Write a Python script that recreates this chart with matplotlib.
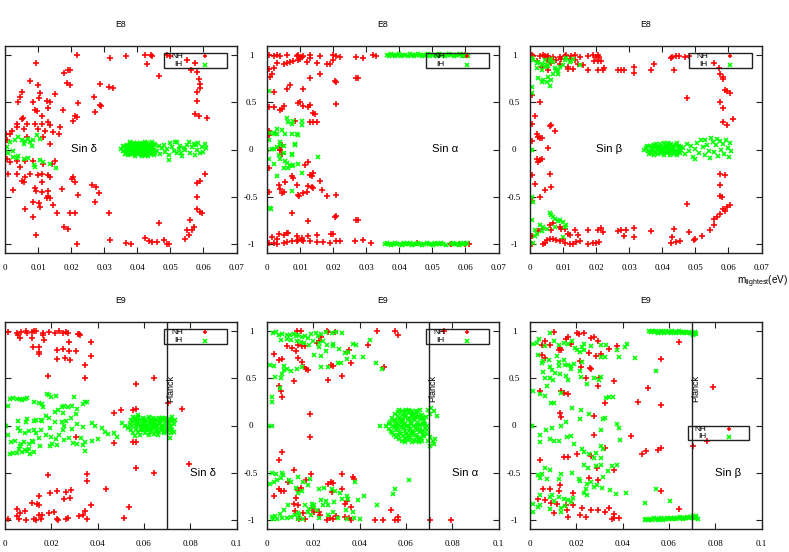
import matplotlib
matplotlib.use('Agg')
import matplotlib.pyplot as plt
from matplotlib.patches import Rectangle

plt.rcParams['axes.unicode_minus'] = False

# ---------------- data ----------------
# E8, sin delta
e8_del_nh = [(0.0219,1.0),(0.0316,0.975),(0.0367,0.99),(0.0424,1.0),(0.044,1.0),(0.0445,0.99),(0.043,0.91),
    (0.0094,0.92),(0.0467,0.78),(0.049,1.0),(0.050,0.99),(0.055,0.95),(0.0576,0.92),(0.0561,0.84),(0.0581,0.82),
    (0.0586,0.75),(0.0591,0.70),(0.0591,0.65),(0.0581,0.61),(0.0581,0.52),(0.0576,0.38),(0.0586,0.36),(0.0611,0.34),
    (0.0606,-0.26),(0.058,-0.36),(0.0591,-0.34),(0.058,-0.50),(0.058,-0.63),(0.059,-0.66),(0.0596,-0.68),
    (0.056,-0.75),(0.057,-0.82),(0.0566,-0.86),(0.0556,-0.91),(0.0545,-0.95),(0.055,-0.86),(0.0465,-0.78),
    (0.0318,-0.96),(0.0367,-0.99),(0.038,-1.0),(0.0424,-0.94),(0.0434,-0.97),(0.0444,-0.98),(0.046,-0.98),
    (0.048,-0.96),(0.049,-1.0),(0.0495,-1.0),(0.0219,-1.0),(0.0094,-0.91),(0.0313,-0.67),
    (0.0179,0.81),(0.0192,0.84),(0.0197,0.85),(0.0187,0.71),(0.0197,0.69),(0.0288,0.70),(0.0313,0.66),(0.0328,0.65),
    (0.0268,0.56),(0.029,0.46),(0.0286,0.47),(0.0273,0.40),(0.0222,0.49),(0.0212,0.36),(0.0217,0.35),(0.0207,0.30),
    (0.0175,0.42),(0.0152,0.59),(0.0207,-0.29),(0.0202,-0.31),(0.0212,-0.35),(0.0222,-0.48),(0.0263,-0.38),
    (0.0276,-0.40),(0.0285,-0.46),(0.0271,-0.56),(0.0197,-0.68),(0.0212,-0.67),(0.0177,-0.82),(0.0192,-0.84),
    (0.0172,-0.42),(0.0157,-0.68),
    (0.0076,0.73),(0.0101,0.69),(0.0106,0.60),(0.0051,0.61),(0.0045,0.56),(0.0038,0.51),(0.0086,0.50),(0.0126,0.52),
    (0.0136,0.51),(0.0104,0.55),(0.0131,0.44),(0.0091,0.42),(0.0096,0.41),(0.0111,0.36),(0.005,0.32),(0.0055,0.33),
    (0.0035,0.27),(0.0066,0.27),(0.0091,0.27),(0.0111,0.27),(0.0131,0.29),(0.0136,0.26),(0.0167,0.24),(0.002,0.20),
    (0.0015,0.17),(0.0002,0.16),(0.0035,0.24),(0.0056,0.22),(0.0101,0.22),(0.0121,0.20),(0.0146,0.19),(0.0162,0.17),
    (0.0066,0.13),(0.0116,0.13),(0.0007,0.10),(0.0136,0.06),
    (0.0005,-0.10),(0.0015,-0.13),(0.0035,-0.12),(0.0061,-0.12),(0.0086,-0.12),(0.0116,-0.15),(0.0141,-0.15),
    (0.0151,-0.12),(0.001,-0.26),(0.0045,-0.19),(0.0035,-0.26),(0.0076,-0.26),(0.0101,-0.27),(0.0111,-0.26),
    (0.0131,-0.27),(0.0136,-0.29),(0.005,-0.33),(0.0058,-0.35),(0.0061,-0.29),(0.0025,-0.43),(0.0092,-0.41),
    (0.0095,-0.44),(0.0111,-0.45),(0.0131,-0.44),(0.0131,-0.49),(0.0136,-0.52),(0.0086,-0.56),(0.0104,-0.57),
    (0.0106,-0.61),(0.0111,-0.35),(0.0126,-0.52),(0.0061,-0.63),(0.0084,-0.72),(0.0146,-0.59)]
e8_del_ih = [(0.0005,0.03),(0.0015,0.08),(0.003,0.10),(0.004,0.13),(0.005,0.10),(0.0057,0.06),(0.007,0.11),
    (0.0076,0.08),(0.0086,0.10),(0.0096,0.15),(0.0106,0.11),(0.0081,0.04),(0.0,0.01),(0.001,-0.04),(0.0025,-0.08),
    (0.004,-0.07),(0.0056,-0.10),(0.007,-0.09),(0.0088,-0.16),(0.009,-0.19),(0.0106,-0.11),(0.0116,-0.13),
    (0.0136,-0.15),(0.0155,-0.20),(0.0025,-0.015),(0.006,0.09),(0.0035,-0.09),
    (0.0352,0.01),(0.0358,-0.02),(0.0361,0.03),(0.0365,-0.04),(0.0368,0.05),(0.0370,0.00),(0.0372,-0.06),
    (0.0375,0.02),(0.0378,0.06),(0.0380,-0.03),(0.0383,0.04),(0.0385,-0.05),(0.0388,0.00),(0.0390,0.07),
    (0.0392,-0.07),(0.0395,0.03),(0.0397,-0.02),(0.0400,0.05),(0.0402,-0.05),(0.0405,0.01),(0.0407,0.07),
    (0.0410,-0.03),(0.0412,0.04),(0.0415,-0.07),(0.0417,0.00),(0.0420,0.06),(0.0422,-0.04),(0.0425,0.02),
    (0.0427,-0.06),(0.0430,0.07),(0.0432,-0.01),(0.0435,0.04),(0.0437,-0.05),(0.0440,0.01),(0.0442,0.06),
    (0.0445,-0.03),(0.0447,0.03),(0.0450,-0.06),(0.0452,0.00),(0.0455,0.05),(0.0376,-0.01),(0.0386,0.02),
    (0.0396,0.00),(0.0406,-0.01),(0.0416,0.03),(0.0426,-0.02),(0.0436,0.01),(0.0446,0.08),(0.0389,-0.04),
    (0.0409,0.05),(0.0429,0.04),(0.0419,-0.05),
    (0.0460,-0.02),(0.0465,0.04),(0.0470,-0.05),(0.0475,0.02),(0.0480,0.05),(0.0485,-0.03),(0.0490,0.01),
    (0.0495,-0.06),(0.0500,0.07),(0.0505,0.03),(0.0510,-0.02),(0.0515,0.08),(0.0520,-0.04),(0.0525,0.01),
    (0.0530,0.04),(0.0535,-0.07),(0.0540,0.02),(0.0545,-0.01),(0.0550,0.05),(0.0555,0.08),(0.0560,-0.04),
    (0.0565,0.03),(0.0570,0.06),(0.0575,-0.06),(0.0580,0.00),(0.0585,0.07),(0.0590,-0.04),(0.0595,0.03),
    (0.0600,-0.03),(0.0605,0.06),(0.0607,0.02),(0.0497,-0.11),(0.0520,0.08),(0.0532,-0.04),(0.0578,0.05)]
e8_del_ih_core = [(0.0357,0.04),(0.0363,-0.05),(0.0367,0.01),(0.0373,0.04),(0.0377,-0.05),(0.0381,0.01),
    (0.0384,-0.02),(0.0387,0.05),(0.0391,-0.01),(0.0394,-0.05),(0.0398,0.02),(0.0401,-0.03),(0.0404,0.04),
    (0.0408,-0.05),(0.0411,0.00),(0.0414,0.06),(0.0418,-0.02),(0.0421,0.03),(0.0424,-0.06),(0.0428,0.01),
    (0.0431,0.05),(0.0434,-0.03),(0.0438,0.02),(0.0441,-0.05),(0.0444,0.04),(0.0448,-0.01),(0.0451,0.06),
    (0.0454,-0.04),(0.0368,-0.02),(0.0379,0.08),(0.0399,0.07),(0.0413,-0.06),(0.0423,0.08),(0.0433,-0.07)]

# E8, sin alpha
e8_alp_nh = [(0.0005,1.0),(0.002,0.99),(0.003,1.0),(0.004,0.99),(0.006,1.0),(0.009,0.99),(0.0095,1.0),
    (0.0105,0.98),(0.011,0.99),(0.013,1.0),(0.016,0.99),(0.020,1.0),(0.021,0.99),(0.022,0.98),(0.027,0.98),
    (0.029,0.97),(0.032,1.0),(0.033,0.99),(0.059,1.0),(0.060,1.0),
    (0.003,0.92),(0.005,0.91),(0.006,0.92),(0.007,0.93),(0.008,0.94),(0.010,0.96),(0.012,0.93),(0.013,0.97),
    (0.015,0.92),(0.018,0.91),(0.019,0.91),(0.020,0.95),(0.0095,0.95),(0.0005,0.86),(0.002,0.87),(0.0015,0.80),
    (0.001,0.77),(0.002,0.61),(0.006,0.64),(0.007,0.69),(0.011,0.64),(0.013,0.76),(0.016,0.80),(0.021,0.72),
    (0.0205,0.73),(0.027,0.76),(0.0275,0.76),(0.021,0.48),(0.0005,0.45),(0.002,0.45),(0.005,0.46),(0.0045,0.43),
    (0.004,0.42),(0.0095,0.49),(0.010,0.50),(0.011,0.46),(0.0125,0.45),(0.013,0.47),(0.014,0.39),(0.0145,0.38),
    (0.013,0.29),(0.014,0.29),(0.015,0.29),(0.0085,0.30),(0.0005,0.20),(0.0005,0.15),
    (0.004,0.0),(0.0035,0.02),(0.004,-0.01),(0.0045,0.05),(0.0045,-0.05),
    (0.0005,-0.20),(0.0005,-0.45),(0.0035,-0.38),(0.004,-0.42),(0.0045,-0.46),(0.005,-0.45),(0.0055,-0.35),
    (0.0075,-0.28),(0.008,-0.30),(0.009,-0.38),(0.0095,-0.48),(0.0098,-0.49),(0.011,-0.46),(0.012,-0.45),
    (0.0125,-0.39),(0.0135,-0.40),(0.014,-0.41),(0.0135,-0.28),(0.013,-0.27),(0.014,-0.25),(0.016,-0.33),
    (0.018,-0.49),(0.0165,-0.43),(0.021,-0.48),(0.0125,-0.13),(0.0115,-0.16),(0.0075,-0.67),(0.0125,-0.76),
    (0.0205,-0.72),(0.021,-0.71),(0.0275,-0.75),(0.027,-0.75),
    (0.0035,-0.90),(0.005,-0.91),(0.006,-0.89),(0.0065,-0.89),(0.009,-0.92),(0.0105,-0.94),(0.0125,-0.92),
    (0.015,-0.91),(0.0195,-0.90),(0.020,-0.90),(0.0015,-0.93),(0.003,-0.95),
    (0.0005,-0.99),(0.002,-0.99),(0.003,-1.0),(0.005,-0.99),(0.006,-0.98),(0.0075,-0.97),(0.009,-0.97),
    (0.0095,-0.96),(0.0105,-0.96),(0.011,-0.97),(0.013,-0.97),(0.015,-0.98),(0.017,-0.98),(0.019,-0.99),
    (0.021,-0.97),(0.022,-0.97),(0.0265,-0.97),(0.029,-0.96),(0.0315,-0.99),(0.0455,-0.99),(0.0555,-1.0),
    (0.058,-1.0),(0.060,-1.0),(0.061,-1.0)]
e8_alp_ih = [(0.0005,0.62),(0.006,0.34),(0.0065,0.29),(0.0075,0.27),(0.008,0.30),(0.0105,0.30),(0.0105,0.26),
    (0.003,0.22),(0.0045,0.21),(0.0055,0.17),(0.002,0.18),(0.0025,0.17),(0.003,0.16),(0.001,0.18),(0.0075,0.17),
    (0.009,0.17),(0.0095,0.15),(0.0005,0.10),(0.0015,0.01),(0.0,0.0),(0.002,0.01),(0.003,0.03),(0.004,0.08),
    (0.004,0.05),(0.005,0.04),(0.005,-0.04),(0.0035,-0.06),(0.004,-0.10),(0.0055,-0.12),(0.006,-0.14),
    (0.007,-0.17),(0.0075,-0.18),(0.008,-0.16),(0.0095,-0.15),(0.0065,-0.20),(0.005,-0.20),(0.003,-0.28),
    (0.0105,-0.25),(0.0155,-0.08),(0.0085,0.06),(0.0085,0.05),(0.0075,-0.05),(0.0075,-0.06),(0.002,-0.15),
    (0.0005,-0.10),(0.0075,-0.44),(0.001,-0.62),(0.0012,-0.63)]
e8_alp_ih_top_x = [0.0362,0.0368,0.0374,0.0381,0.0387,0.0393,0.0399,0.0406,0.0412,0.0418,0.0425,0.0431,0.0437,
    0.0443,0.0450,0.0456,0.0462,0.0469,0.0475,0.0481,0.0488,0.0494,0.0500,0.0507,0.0513,0.0519,0.0526,0.0532,
    0.0538,0.0545,0.0551,0.0557,0.0564,0.0570,0.0576,0.0583,0.0589,0.0595,0.0602,0.0607]
e8_alp_ih_top_y = [1.0,0.99,1.01,1.0,0.99,1.0,1.01,0.99,1.0,1.0,0.99,1.01,1.0,0.99,1.0,1.01,1.0,0.99,1.0,1.0,
    1.01,0.99,1.0,1.0,0.99,1.01,1.0,1.0,0.99,1.0,1.01,1.0,0.99,1.0,1.0,1.01,0.99,1.0,1.0,0.99]
e8_alp_ih_bot_x = [0.0357,0.0363,0.0369,0.0376,0.0382,0.0388,0.0394,0.0401,0.0407,0.0413,0.0420,0.0426,0.0432,
    0.0438,0.0445,0.0451,0.0457,0.0464,0.0470,0.0476,0.0483,0.0489,0.0495,0.0502,0.0508,0.0514,0.0521,0.0527,
    0.0533,0.0540,0.0556,0.0562,0.0568,0.0575,0.0581,0.0587,0.0594,0.0600,0.0606]
e8_alp_ih_bot_y = [-1.0,-0.99,-1.0,-1.01,-1.0,-0.99,-1.0,-1.0,-1.01,-0.99,-1.0,-1.0,-0.99,-1.01,-1.0,-1.0,
    -0.99,-1.0,-1.01,-1.0,-0.99,-1.0,-1.0,-1.01,-0.99,-1.0,-1.0,-0.99,-1.0,-1.01,-1.0,-0.99,-1.0,-1.0,-1.01,
    -0.99,-1.0,-1.0,-0.99]

# E8, sin beta
e8_bet_nh = [(0.0005,1.0),(0.001,0.99),(0.003,0.99),(0.004,1.0),(0.0045,0.99),(0.005,0.98),(0.0055,0.99),
    (0.007,0.98),(0.009,0.98),(0.0105,0.99),(0.011,1.0),(0.0125,0.99),(0.0135,1.0),(0.015,0.98),(0.0175,0.99),
    (0.019,1.0),(0.020,0.98),(0.0205,1.0),(0.021,0.98),(0.0195,0.94),(0.0205,0.94),(0.0215,0.94),(0.002,0.94),
    (0.005,0.95),(0.006,0.94),(0.008,0.95),(0.0095,0.96),(0.012,0.96),(0.0135,0.95),(0.016,0.90),(0.0145,0.91),
    (0.009,0.91),(0.0065,0.92),(0.0115,0.86),(0.013,0.86),(0.0115,0.88),(0.0055,0.85),(0.0035,0.88),(0.0175,0.85),
    (0.0205,0.85),(0.022,0.84),(0.0225,0.87),(0.0265,0.84),(0.0285,0.84),(0.0275,0.84),(0.0315,0.81),(0.0315,0.88),
    (0.0365,0.85),(0.0375,0.91),(0.043,0.98),(0.044,0.99),(0.045,0.99),(0.0425,0.97),(0.0435,0.85),(0.047,0.98),
    (0.048,0.99),
    (0.0555,0.92),(0.057,0.87),(0.0575,0.80),(0.0585,0.77),(0.0585,0.75),(0.059,0.63),(0.0595,0.62),(0.0605,0.60),
    (0.0575,0.51),(0.0585,0.44),(0.0585,0.29),(0.0595,0.26),(0.0615,0.32),(0.0475,0.55),
    (0.0005,0.58),(0.003,0.50),(0.0015,0.36),(0.006,0.25),(0.0065,0.26),(0.0075,0.20),(0.0005,0.27),(0.002,0.16),
    (0.0025,0.13),(0.003,0.12),(0.0035,0.12),(0.0055,0.02),(0.0005,0.09),
    (0.0575,-0.26),(0.059,-0.27),(0.0575,-0.38),(0.0575,-0.49),(0.058,-0.50),(0.0595,-0.61),(0.0605,-0.59),
    (0.0585,-0.63),(0.059,-0.65),(0.0575,-0.69),(0.0565,-0.72),(0.0555,-0.74),(0.0555,-0.80),(0.0545,-0.86),
    (0.050,-0.95),(0.0495,-0.96),(0.0475,-0.58),(0.052,-0.92),(0.048,-0.88),
    (0.0005,-0.27),(0.002,-0.10),(0.0025,-0.13),(0.003,-0.11),(0.0035,-0.10),(0.006,-0.26),(0.0015,-0.37),
    (0.0045,-0.43),(0.0065,-0.40),(0.003,-0.50),(0.0005,-0.55),
    (0.0005,-1.0),(0.004,-1.0),(0.0045,-0.99),(0.005,-0.96),(0.006,-0.95),(0.007,-0.95),(0.008,-0.96),
    (0.009,-0.97),(0.010,-0.95),(0.0105,-0.99),(0.012,-1.0),(0.013,-1.0),(0.014,-0.98),(0.015,-0.97),
    (0.0175,-1.0),(0.019,-0.99),(0.020,-0.99),(0.021,-0.98),(0.0005,-0.92),(0.0025,-0.87),(0.006,-0.80),
    (0.007,-0.78),(0.009,-0.82),(0.0095,-0.85),(0.0105,-0.84),(0.0065,-0.86),(0.0035,-0.85),(0.0115,-0.90),
    (0.012,-0.91),(0.0135,-0.86),(0.0145,-0.91),(0.0175,-0.86),(0.0205,-0.86),(0.0215,-0.83),(0.022,-0.88),
    (0.0265,-0.87),(0.0275,-0.86),(0.029,-0.86),(0.0285,-0.92),(0.0315,-0.93),(0.0315,-0.83),(0.0365,-0.87),
    (0.0435,-0.85),(0.0425,-0.99),(0.044,-0.98),(0.0455,-0.97),(0.043,-0.93)]
e8_bet_ih = [(0.0005,0.97),(0.001,0.95),(0.002,0.92),(0.0025,0.93),(0.0035,0.91),(0.004,0.90),(0.0045,0.88),
    (0.005,0.90),(0.0055,0.89),(0.006,0.94),(0.0065,0.96),(0.007,0.93),(0.0075,0.87),(0.008,0.85),(0.0085,0.83),
    (0.009,0.88),(0.010,0.90),(0.0105,0.95),(0.011,0.97),(0.012,0.93),(0.0125,0.94),(0.013,0.96),(0.015,0.90),
    (0.0025,0.76),(0.0035,0.72),(0.004,0.74),(0.005,0.72),(0.006,0.68),(0.0055,0.77),(0.0065,0.74),(0.007,0.80),
    (0.0005,0.66),(0.0005,0.60),(0.0045,0.95),(0.0035,0.84),(0.002,0.87),(0.0085,0.80),
    (0.0,0.0),(0.0005,-0.01),(0.0005,-0.50),(0.001,-0.56),
    (0.006,-0.68),(0.0065,-0.70),(0.007,-0.72),(0.0075,-0.74),(0.0085,-0.76),(0.009,-0.75),(0.010,-0.77),
    (0.0105,-0.82),(0.011,-0.80),(0.003,-0.80),(0.0035,-0.87),(0.002,-0.90),(0.0015,-0.92),(0.001,-0.99),
    (0.004,-0.82),(0.005,-0.84),(0.0075,-0.82),(0.010,-0.93),(0.0005,-0.75),(0.0015,-0.86),
    (0.0345,0.00),(0.0352,0.02),(0.0356,-0.02),(0.0362,0.04),(0.0366,-0.04),(0.0370,0.01),(0.0374,0.05),
    (0.0378,-0.03),(0.0382,0.03),(0.0386,-0.05),(0.0390,0.00),(0.0394,0.06),(0.0398,-0.02),(0.0402,0.03),
    (0.0406,-0.06),(0.0410,0.05),(0.0414,-0.01),(0.0418,0.02),(0.0422,-0.04),(0.0426,0.06),(0.0430,0.00),
    (0.0434,-0.05),(0.0438,0.04),(0.0442,-0.02),(0.0446,0.07),(0.0450,0.01),(0.0454,-0.04),(0.0458,0.03),
    (0.0372,-0.01),(0.0384,0.01),(0.0396,-0.03),(0.0408,0.02),(0.0420,0.00),(0.0432,0.03),(0.0444,-0.06),
    (0.0392,0.03),(0.0416,0.07),(0.0428,-0.02),
    (0.0462,0.02),(0.0468,-0.05),(0.0474,0.06),(0.0480,-0.02),(0.0486,0.04),(0.0492,-0.08),(0.0498,0.01),
    (0.0504,0.07),(0.0510,-0.04),(0.0516,0.10),(0.0522,0.03),(0.0528,-0.06),(0.0534,0.05),(0.0540,-0.02),
    (0.0546,0.12),(0.0552,0.08),(0.0556,-0.03),(0.0562,0.05),(0.0568,-0.07),(0.0574,0.09),(0.0578,0.00),
    (0.0584,0.06),(0.0588,-0.05),(0.0594,0.10),(0.0598,0.02),(0.0602,-0.08),(0.0606,0.07),(0.0608,-0.02),
    (0.0500,-0.10),(0.0530,0.10),(0.0565,0.11),(0.0545,-0.09)]
e8_bet_ih_core = [(0.0355,0.04),(0.0360,-0.05),(0.0368,0.02),(0.0376,-0.06),(0.0380,0.06),(0.0388,0.03),
    (0.0393,-0.04),(0.0400,0.00),(0.0404,0.07),(0.0409,-0.03),(0.0412,0.02),(0.0419,0.05),(0.0424,-0.06),
    (0.0427,0.02),(0.0436,-0.02),(0.0440,0.05),(0.0447,-0.03),(0.0452,0.04),(0.0456,-0.01),(0.0371,0.04),
    (0.0395,0.01),(0.0415,-0.04)]

# E9, sin delta
e9_del_nh = [(0.0015,0.99),(0.005,0.98),(0.0055,0.96),(0.007,0.99),(0.009,1.0),(0.0095,0.98),(0.0115,0.99),
    (0.0125,1.0),(0.0135,1.0),(0.0165,0.98),(0.0165,0.96),(0.019,0.99),(0.0215,0.98),(0.0235,1.0),(0.025,0.98),
    (0.0265,0.99),(0.027,0.98),(0.0315,0.97),(0.032,0.97),(0.0325,0.96),(0.0065,0.93),(0.0115,0.93),(0.017,0.91),
    (0.0275,0.89),(0.037,0.89),(0.012,0.83),(0.0145,0.83),(0.0225,0.80),(0.025,0.81),(0.0275,0.79),(0.0305,0.79),
    (0.0145,0.78),(0.0145,0.76),(0.0225,0.71),(0.026,0.72),(0.028,0.70),(0.037,0.74),(0.0345,0.64),(0.0185,0.53),
    (0.0345,0.51),
    (0.0565,0.44),(0.0645,0.51),(0.0565,0.18),(0.0555,0.17),(0.050,0.16),(0.047,0.13),(0.0765,0.18),(0.0705,0.24),
    (0.0305,-0.12),(0.0555,-0.18),(0.0565,-0.18),(0.047,-0.19),(0.0565,-0.45),(0.0645,-0.51),(0.0795,-0.41),
    (0.0185,-0.53),(0.0355,-0.52),(0.0355,-0.59),(0.0435,-0.67),(0.037,-0.85),(0.0345,-0.91),(0.0335,-0.95),
    (0.0355,-0.99),(0.0195,-0.72),(0.0225,-0.70),(0.0265,-0.71),(0.0285,-0.69),(0.0255,-0.78),(0.028,-0.77),
    (0.0145,-0.75),(0.014,-0.83),(0.0145,-0.84),(0.0115,-0.82),(0.005,-0.89),(0.0085,-0.91),(0.0065,-0.93),
    (0.0145,-0.95),(0.016,-0.95),(0.019,-0.93),(0.021,-0.92),(0.0015,-0.99),(0.005,-0.96),(0.006,-0.99),
    (0.009,-1.0),(0.0125,-0.99),(0.0135,-1.0),(0.0155,-0.99),(0.0225,-0.99),(0.023,-1.0),(0.0265,-0.99),
    (0.027,-0.98),(0.032,-0.96),(0.0515,-0.98),(0.0535,-0.87)]
e9_del_ih = [(0.0,0.0),(0.0005,0.0),(0.002,0.28),(0.0035,0.29),(0.005,0.28),(0.0065,0.28),(0.0075,0.27),
    (0.0085,0.28),(0.0095,0.29),(0.0015,0.21),(0.0125,0.25),(0.0145,0.24),(0.016,0.23),(0.0165,0.20),(0.018,0.33),
    (0.019,0.32),(0.020,0.30),(0.022,0.31),(0.0245,0.20),(0.0255,0.21),(0.027,0.20),(0.029,0.21),(0.030,0.30),
    (0.031,0.18),(0.0335,0.23),(0.0345,0.25),(0.0355,0.25),(0.023,0.17),(0.0215,0.14),(0.025,0.13),(0.0175,0.10),
    (0.019,0.08),(0.0135,0.06),(0.0125,0.05),(0.0155,0.06),(0.016,0.05),(0.0095,0.07),(0.009,0.04),(0.0055,0.05),
    (0.0055,-0.03),(0.0065,-0.06),(0.0085,-0.08),(0.0105,-0.06),(0.0125,-0.05),(0.0135,-0.08),(0.0155,-0.05),
    (0.0195,-0.03),(0.0245,0.04),(0.0255,0.0),(0.029,-0.04),(0.031,0.02),(0.0335,-0.02),(0.0375,0.03),(0.039,0.0),
    (0.042,-0.03),(0.043,-0.07),(0.0445,-0.09),(0.047,-0.08),(0.0485,-0.12),(0.040,-0.14),(0.0375,-0.17),
    (0.0345,-0.18),(0.0335,-0.21),(0.0345,-0.27),(0.033,-0.13),(0.031,-0.20),(0.0295,-0.19),(0.0275,-0.13),
    (0.0255,-0.15),(0.0235,-0.10),(0.022,-0.14),(0.020,-0.12),(0.0205,-0.20),(0.0175,-0.10),(0.0145,-0.13),
    (0.012,-0.18),(0.0115,-0.16),(0.0105,-0.20),(0.008,-0.18),(0.007,-0.20),(0.0065,-0.22),(0.006,-0.25),
    (0.005,-0.29),(0.0035,-0.29),(0.002,-0.30),(0.0025,-0.18),(0.0075,-0.28),(0.0095,-0.27),(0.011,-0.30),
    (0.0125,-0.28),(0.015,-0.22),(0.0105,-0.25),(0.0085,-0.26),(0.0045,-0.17),(0.0015,-0.10),(0.0305,0.12),
    (0.0285,0.08),(0.0265,0.05),(0.0215,0.04),(0.025,-0.05),(0.0225,-0.21),(0.0195,-0.22),
    (0.0540,0.02),(0.0545,0.06),(0.0550,-0.01),(0.0555,0.04),(0.0560,0.08),(0.0565,0.00),(0.0570,0.05),
    (0.0575,0.09),(0.0580,0.02),(0.0585,0.06),(0.0590,-0.02),(0.0595,0.08),(0.0600,0.03),(0.0605,0.07),
    (0.0610,0.00),(0.0615,0.05),(0.0620,0.09),(0.0625,0.02),(0.0630,0.06),(0.0635,-0.01),(0.0640,0.08),
    (0.0645,0.04),(0.0650,0.07),(0.0655,0.01),(0.0660,0.05),(0.0665,0.08),(0.0670,0.03),(0.0675,0.06),
    (0.0680,0.00),(0.0685,0.07),(0.0690,0.04),(0.0695,0.08),(0.0700,0.02),(0.0705,0.06),(0.0710,0.03),
    (0.0715,0.07),(0.0720,0.05),(0.0728,0.02),(0.0733,0.06),
    (0.0545,-0.05),(0.0555,-0.08),(0.0565,-0.04),(0.0575,-0.07),(0.0585,-0.10),(0.0595,-0.05),(0.0605,-0.08),
    (0.0615,-0.04),(0.0625,-0.07),(0.0635,-0.05),(0.0645,-0.09),(0.0655,-0.04),(0.0665,-0.07),(0.0675,-0.05),
    (0.0685,-0.08),(0.0695,-0.04),(0.0700,-0.07),(0.0708,-0.05),(0.0715,-0.08),(0.0722,-0.05),(0.0730,-0.07),
    (0.0712,-0.13),(0.0560,-0.11),(0.0600,-0.01),(0.0640,-0.02),(0.0680,-0.03),(0.0520,0.00),(0.0530,-0.03),
    (0.0505,0.03),(0.0575,0.11),(0.0620,-0.10),(0.0660,-0.10)]
e9_del_ih_core = [(0.0572,0.03),(0.0588,-0.05),(0.0602,0.05),(0.0618,0.01),(0.0628,-0.04),(0.0642,0.03),
    (0.0652,-0.06),(0.0668,0.02),(0.0678,0.08),(0.0692,-0.01),(0.0698,0.05),(0.0712,0.00),(0.0722,0.09),
    (0.0562,0.06),(0.0582,-0.01),(0.0608,-0.05),(0.0632,0.04),(0.0658,-0.01),(0.0688,-0.06),(0.0718,-0.02),
    (0.0552,0.09),(0.0597,0.01),(0.0647,0.00)]

# E9, sin alpha
e9_alp_nh = [(0.013,1.0),(0.0145,1.0),(0.026,1.0),(0.0265,0.99),(0.0295,0.99),(0.0475,1.0),(0.0555,1.0),
    (0.0565,0.96),(0.0085,0.84),(0.011,0.82),(0.0125,0.79),(0.0135,0.86),(0.015,0.84),(0.0165,0.84),(0.0225,0.90),
    (0.0235,0.94),(0.0215,0.88),(0.0345,0.78),(0.0355,0.80),(0.0435,0.86),(0.0365,0.66),(0.0275,0.64),
    (0.0285,0.63),(0.0325,0.53),(0.0265,0.48),(0.0505,0.62),(0.003,0.76),(0.005,0.70),(0.0065,0.71),
    (0.0135,0.72),(0.015,0.68),(0.016,0.62),(0.0175,0.59),(0.017,0.60),(0.0115,0.47),(0.006,0.37),(0.005,0.42),
    (0.0065,0.30),(0.0185,0.12),(0.0185,-0.12),(0.0765,1.0),
    (0.005,-0.37),(0.0065,-0.28),(0.003,-0.75),(0.005,-0.68),(0.006,-0.70),(0.0075,-0.70),(0.0115,-0.47),
    (0.009,-0.60),(0.0125,-0.77),(0.0135,-0.69),(0.0145,-0.66),(0.017,-0.58),(0.019,-0.52),(0.0115,-0.83),
    (0.0135,-0.85),(0.012,-0.91),(0.0155,-0.93),(0.0195,-0.88),(0.0205,-0.92),(0.0225,-0.92),(0.023,-0.95),
    (0.026,-1.0),(0.027,-0.98),(0.0265,-0.62),(0.0275,-0.60),(0.0285,-0.61),(0.028,-0.71),(0.0325,-0.52),
    (0.0325,-0.67),(0.0345,-0.80),(0.0335,-0.83),(0.037,-0.55),(0.0375,-0.57),(0.0365,-0.87),(0.030,-0.96),
    (0.0335,-0.97),(0.0355,-0.98),(0.0365,-1.0),(0.0165,-0.99),(0.014,-0.99),(0.0285,-0.99),(0.0465,-1.0),
    (0.050,-1.0),(0.0535,-0.90),(0.0555,-1.0),(0.0565,-0.97),(0.0565,-1.0),(0.0705,-1.0),(0.0795,-1.0)]
e9_alp_ih = [(0.0025,0.98),(0.004,0.99),(0.005,0.96),(0.0065,0.97),(0.0085,0.96),(0.010,0.96),(0.0115,0.97),
    (0.0125,0.95),(0.0135,0.96),(0.015,0.94),(0.0165,0.95),(0.0175,0.93),(0.019,0.97),(0.021,0.98),(0.022,0.95),
    (0.0235,0.97),(0.0255,0.99),(0.028,0.98),(0.030,0.99),(0.0325,0.98),(0.006,0.91),(0.0085,0.92),(0.0105,0.91),
    (0.013,0.90),(0.0145,0.89),(0.016,0.88),(0.018,0.86),(0.020,0.90),(0.0225,0.88),(0.024,0.90),(0.026,0.86),
    (0.0285,0.87),(0.0225,0.83),(0.0255,0.79),(0.0205,0.75),(0.0235,0.74),(0.0285,0.85),(0.031,0.81),
    (0.0335,0.77),(0.035,0.78),(0.037,0.87),(0.0385,0.86),(0.0345,0.71),(0.0375,0.73),(0.0305,0.66),(0.032,0.66),
    (0.0265,0.62),(0.0235,0.62),(0.0415,0.73),(0.0445,0.91),(0.047,0.66),(0.0495,0.60),(0.0015,0.64),(0.003,0.63),
    (0.0075,0.63),(0.0085,0.60),(0.0105,0.58),(0.013,0.60),(0.015,0.62),(0.0035,0.52),(0.006,0.50),(0.0065,0.55),
    (0.0075,0.59),(0.002,0.30),(0.002,0.25),(0.0055,0.40),(0.0005,0.0),(0.002,0.0),
    (0.002,-0.50),(0.004,-0.52),(0.0015,-0.62),(0.003,-0.60),(0.0045,-0.58),(0.006,-0.56),(0.0065,-0.51),
    (0.007,-0.53),(0.0095,-0.58),(0.0105,-0.60),(0.0125,-0.66),(0.0135,-0.72),(0.015,-0.70),(0.0135,-0.55),
    (0.0155,-0.60),(0.0175,-0.63),(0.0185,-0.57),(0.0225,-0.67),(0.0245,-0.66),(0.028,-0.68),(0.0295,-0.70),
    (0.0315,-0.72),(0.0345,-0.75),(0.035,-0.78),(0.038,-0.60),(0.0395,-0.79),(0.042,-0.75),(0.0475,-0.85),
    (0.0545,-0.73),(0.0555,-0.67),(0.0615,-0.58),(0.0215,-0.90),(0.0165,-0.85),(0.018,-0.89),(0.020,-0.87),
    (0.024,-0.84),(0.0255,-0.80),(0.029,-0.81),(0.0325,-0.78),(0.034,-0.90),(0.037,-0.92),(0.040,-0.99),
    (0.0305,-0.98),(0.0285,-0.92),(0.0265,-0.95),(0.009,-0.85),(0.0075,-0.90),(0.0055,-0.94),(0.0035,-0.96),
    (0.002,-0.97),(0.0025,-0.99),(0.0045,-0.99),(0.0065,-0.98),(0.0085,-0.98),(0.0105,-0.97),(0.012,-0.95),
    (0.0135,-0.93),(0.014,-0.95),(0.0155,-0.99),(0.0175,-0.92),(0.019,-0.95),(0.0225,-0.98),(0.0135,-0.99),
    (0.0345,-0.99),(0.0375,-0.98),(0.0195,-0.83),(0.0205,-0.84),(0.0235,-0.79),(0.0265,-0.85),
    (0.0572,0.16),(0.0601,0.17),(0.0628,0.15),(0.0659,0.16),(0.0553,0.12),(0.0584,0.11),(0.0612,0.13),
    (0.0641,0.12),(0.0668,0.11),(0.0538,0.08),(0.0569,0.07),(0.0598,0.09),(0.0632,0.08),(0.0661,0.07),
    (0.0688,0.09),(0.0531,0.04),(0.0562,0.03),(0.0589,0.05),(0.0621,0.04),(0.0652,0.03),(0.0679,0.05),
    (0.0512,0.00),(0.0543,-0.01),(0.0571,0.01),(0.0604,0.00),(0.0633,-0.01),(0.0662,0.01),(0.0691,0.00),
    (0.0528,-0.04),(0.0559,-0.05),(0.0592,-0.03),(0.0618,-0.04),(0.0649,-0.05),(0.0681,-0.03),(0.0541,-0.08),
    (0.0573,-0.07),(0.0602,-0.09),(0.0631,-0.08),(0.0663,-0.07),(0.0692,-0.09),(0.0558,-0.12),(0.0587,-0.11),
    (0.0619,-0.13),(0.0648,-0.12),(0.0679,-0.11),(0.0581,-0.16),(0.0609,-0.15),(0.0642,-0.17),(0.0671,-0.16),
    (0.0565,0.14),(0.0594,0.14),(0.0625,0.10),(0.0652,0.14),(0.0547,0.06),(0.0578,0.05),(0.0609,0.06),
    (0.0641,0.06),(0.0672,0.02),(0.0551,-0.02),(0.0583,-0.02),(0.0612,-0.06),(0.0644,-0.02),(0.0676,-0.06),
    (0.0566,-0.10),(0.0596,-0.13),(0.0627,-0.10),(0.0657,-0.14),(0.0598,0.02),(0.0615,-0.01),
    (0.0695,0.17),(0.071,0.19),(0.072,0.15),(0.0705,0.12),(0.0735,0.10),(0.0705,-0.12),(0.0715,-0.16),
    (0.072,-0.20),(0.0705,-0.22),(0.0725,-0.14),(0.0695,-0.17),(0.0488,0.0)]
e9_alp_ih_core = [(0.0585,0.15),(0.0615,0.16),(0.0645,0.15),(0.0568,0.10),(0.0597,0.11),(0.0627,0.12),
    (0.0655,0.10),(0.0555,0.05),(0.0585,0.07),(0.0615,0.08),(0.0645,0.09),(0.0675,0.08),(0.0528,0.02),
    (0.0556,0.01),(0.0588,0.02),(0.0620,0.02),(0.0650,0.01),(0.0682,0.02),(0.0536,-0.06),(0.0566,-0.03),
    (0.0598,-0.06),(0.0630,-0.06),(0.0660,-0.04),(0.0690,-0.05),(0.0549,-0.10),(0.0580,-0.09),(0.0613,-0.10),
    (0.0645,-0.10),(0.0674,-0.09),(0.0571,-0.14),(0.0602,-0.14),(0.0635,-0.15),(0.0665,-0.13),(0.0595,-0.18),
    (0.0625,-0.18),(0.0655,-0.18)]

# E9, sin beta
e9_bet_nh = [(0.005,0.86),(0.0065,0.90),(0.0085,0.86),(0.0105,0.99),(0.0125,0.80),(0.0135,0.80),(0.0155,0.92),
    (0.0165,0.94),(0.0175,0.87),(0.0205,0.98),(0.021,0.97),(0.0235,0.98),(0.0265,0.93),(0.0275,0.94),
    (0.0295,0.90),(0.0305,0.76),(0.0255,0.77),(0.0285,0.74),(0.0265,0.60),(0.030,0.50),(0.034,0.81),
    (0.0375,0.84),(0.0365,0.47),(0.013,0.82),(0.0065,0.72),(0.005,0.75),(0.0215,0.69),(0.026,0.61),(0.0295,0.42),
    (0.022,0.62),(0.024,0.50),(0.0045,0.37),(0.0165,0.33),(0.0135,0.37),(0.0145,0.35),(0.0325,0.24),(0.0465,0.25),
    (0.051,0.40),(0.0565,0.22),(0.0565,0.71),(0.0645,0.89),(0.079,0.41),(0.013,0.13),(0.0135,0.09),(0.0275,0.10),
    (0.0275,-0.10),(0.0435,-0.11),(0.0485,-0.30),(0.050,-0.27),(0.0565,-0.24),(0.0555,-0.26),(0.0705,-0.22),
    (0.0765,-0.16),(0.0325,-0.24),(0.0265,-0.32),(0.0205,-0.30),(0.0145,-0.33),(0.0165,-0.33),(0.0045,-0.37),
    (0.029,-0.45),(0.0365,-0.47),(0.0295,-0.58),(0.013,-0.63),(0.0055,-0.67),(0.0085,-0.68),(0.0125,-0.70),
    (0.0185,-0.72),(0.0255,-0.56),(0.0565,-0.70),(0.0645,-0.89),(0.0035,-0.78),(0.0065,-0.79),(0.009,-0.82),
    (0.0115,-0.83),(0.0155,-0.85),(0.0185,-0.84),(0.0225,-0.88),(0.0265,-0.90),(0.0295,-0.90),(0.0325,-0.92),
    (0.034,-0.88),(0.0365,-0.94),(0.0165,-0.97),(0.0215,-0.95),(0.024,-0.97),(0.016,-0.90),(0.0105,-0.93),
    (0.0365,-0.98),(0.0385,-0.98),(0.0355,-0.99)]
e9_bet_ih = [(0.0015,0.87),(0.003,0.88),(0.004,0.92),(0.0065,0.85),(0.0085,0.98),(0.0105,0.90),(0.0125,0.86),
    (0.0145,0.88),(0.0165,0.87),(0.018,0.90),(0.0195,0.82),(0.0205,0.80),(0.0225,0.83),(0.0235,0.87),(0.0265,0.84),
    (0.0305,0.86),(0.033,0.86),(0.0375,0.80),(0.041,0.83),(0.0235,0.80),(0.0215,0.78),(0.0305,0.73),(0.0325,0.73),
    (0.0385,0.73),(0.0225,0.68),(0.0165,0.64),(0.015,0.64),(0.0125,0.67),(0.0145,0.70),(0.0115,0.74),(0.008,0.70),
    (0.0055,0.69),(0.005,0.66),(0.0035,0.75),(0.0055,0.57),(0.0065,0.50),(0.0085,0.50),(0.011,0.56),(0.0095,0.59),
    (0.0125,0.63),(0.013,0.55),(0.010,0.48),(0.0085,0.62),(0.0175,0.63),(0.019,0.65),(0.0215,0.58),(0.022,0.52),
    (0.0245,0.44),(0.0275,0.50),(0.030,0.48),(0.0305,0.52),(0.0165,0.48),(0.0155,0.53),(0.0175,0.60),(0.0075,0.42),
    (0.0045,0.34),(0.0065,0.31),(0.009,0.24),(0.0105,0.24),(0.0135,0.35),(0.018,0.19),(0.022,0.17),(0.0255,0.12),
    (0.0315,0.07),(0.0215,0.07),(0.0135,0.0),(0.0095,-0.03),(0.007,-0.05),(0.0045,-0.10),(0.0045,-0.18),
    (0.0085,-0.14),(0.0105,-0.16),(0.0125,-0.17),(0.016,-0.12),(0.0175,-0.11),(0.019,-0.20),(0.0225,-0.25),
    (0.0235,-0.28),(0.0255,-0.30),(0.0285,-0.29),(0.0305,-0.35),(0.039,-0.15),(0.0385,-0.03),(0.0305,-0.22),
    (0.0315,-0.25),(0.0275,-0.35),(0.0235,-0.42),(0.025,-0.45),(0.0285,-0.43),(0.0305,-0.42),(0.0375,-0.42),
    (0.0355,-0.43),(0.0335,-0.48),(0.0315,-0.55),(0.0265,-0.60),(0.021,-0.57),(0.018,-0.51),(0.0135,-0.52),
    (0.0125,-0.57),(0.0085,-0.47),(0.0065,-0.45),(0.005,-0.52),(0.0045,-0.56),(0.0035,-0.53),(0.0075,-0.57),
    (0.0045,-0.74),(0.0085,-0.76),(0.0095,-0.74),(0.0125,-0.76),(0.0145,-0.78),(0.0165,-0.79),(0.0175,-0.81),
    (0.0185,-0.77),(0.0235,-0.72),(0.0245,-0.74),(0.0275,-0.65),(0.029,-0.63),(0.031,-0.66),(0.0345,-0.69),
    (0.037,-0.73),(0.0415,-0.72),(0.0495,-0.82),(0.0545,-0.67),(0.0605,-0.80),(0.0015,-0.83),(0.0035,-0.87),
    (0.0085,-0.89),(0.0135,-0.88),(0.015,-0.86),(0.0105,-0.80),(0.0045,-0.85),(0.0005,0.0),(0.001,0.0),
    (0.0015,0.37),(0.0155,0.04),(0.0305,-0.05),(0.042,0.87),(0.0455,0.72),(0.0545,0.58),(0.0375,0.02),
    (0.0015,-0.92),(0.0135,-0.92),(0.024,-0.68),(0.0215,-0.59),(0.0245,-0.62),(0.033,0.29),(0.034,0.30),
    (0.036,0.30),(0.0325,0.08)]
e9_bet_ih_top_x = [0.0515,0.0522,0.0529,0.0536,0.0543,0.0551,0.0558,0.0565,0.0572,0.0579,0.0586,0.0594,0.0601,
    0.0608,0.0615,0.0622,0.0629,0.0637,0.0644,0.0651,0.0658,0.0665,0.0672,0.0680,0.0687,0.0694,0.0701,0.0708,
    0.0714,0.0719,0.0703,0.0711]
e9_bet_ih_top_y = [1.0,0.99,1.0,0.99,1.0,0.98,0.99,1.0,0.99,0.98,1.0,0.99,0.99,0.98,1.0,0.99,0.98,0.99,1.0,0.99,
    0.98,0.99,0.99,0.98,0.99,0.98,0.98,0.97,0.98,0.97,0.96,0.99]
e9_bet_ih_bot_x = [0.0495,0.0503,0.0511,0.0519,0.0527,0.0535,0.0543,0.0551,0.0559,0.0567,0.0575,0.0583,0.0591,
    0.0599,0.0607,0.0615,0.0623,0.0631,0.0639,0.0647,0.0655,0.0663,0.0671,0.0679,0.0687,0.0695,0.0703,0.0711,
    0.0719,0.0727,0.0706,0.0715]
e9_bet_ih_bot_y = [-1.0,-0.99,-1.0,-0.99,-1.0,-0.98,-0.99,-1.0,-0.99,-0.98,-1.0,-0.99,-0.98,-0.99,-0.98,-0.99,
    -0.98,-0.99,-0.98,-0.97,-0.98,-0.99,-0.98,-0.97,-0.98,-0.97,-0.98,-0.97,-0.98,-0.99,-0.96,-0.96]

x_ticks_e8 = [0, 0.01, 0.02, 0.03, 0.04, 0.05, 0.06, 0.07]
x_labels_e8 = ['0', '0.01', '0.02', '0.03', '0.04', '0.05', '0.06', '0.07']
x_ticks_e9 = [0, 0.02, 0.04, 0.06, 0.08, 0.1]
x_labels_e9 = ['0', '0.02', '0.04', '0.06', '0.08', '0.1']
y_ticks = [-1, -0.5, 0, 0.5, 1]
y_labels = ['-1', '-0.5', '0', '0.5', '1']
planck_mass = 0.07

RED = '#ff0000'
GREEN = '#00ff00'
SANS = 'Liberation Sans'
SERIF = 'Liberation Serif'
MEW = 1.15


def scatter(ax, xs, ys, color, marker, ms):
    ax.plot(xs, ys, linestyle='none', marker=marker, ms=ms, mew=MEW, color=color)


def pts(ax, p, color, marker, ms):
    scatter(ax, [q[0] for q in p], [q[1] for q in p], color, marker, ms)


def setup(ax, title, xmax, xticks, xlabels, text, text_xy, box, ylabels=True):
    ax.set_xlim(0, xmax)
    ax.set_ylim(-1.1, 1.1)
    ax.set_xticks(xticks)
    ax.set_xticklabels(xlabels, fontfamily=SERIF, fontsize=6.5)
    ax.set_yticks(y_ticks)
    ax.set_yticklabels(y_labels, fontfamily=SERIF, fontsize=6.5)
    for lbl in ax.get_yticklabels():
        lbl.set_horizontalalignment('center')
    ax.tick_params(direction='in', top=True, right=True, length=4.5, width=0.8, color='#222222')
    ax.tick_params(axis='x', pad=8)
    ax.tick_params(axis='y', pad=11.5, labelleft=ylabels)
    for s in ax.spines.values():
        s.set_linewidth(1.0)
        s.set_color('#222222')
    ax.set_title(title, fontfamily=SANS, fontsize=6.3, pad=14)
    ax.text(text_xy[0], text_xy[1], text, fontfamily=SANS, fontsize=8.2, ha='left', va='center')
    # gnuplot style key
    x0, y0, x1, y1 = box
    ax.add_patch(Rectangle((x0, y0), x1 - x0, y1 - y0, transform=ax.transAxes, fill=False,
                           lw=1.0, ec='#222222', zorder=5))
    ax.text(x0 + 0.082, y1 - 0.015, 'NH', transform=ax.transAxes, fontfamily=SANS, fontsize=6,
            ha='right', va='center', zorder=6)
    ax.text(x0 + 0.082, y0 + 0.016, 'IH', transform=ax.transAxes, fontfamily=SANS, fontsize=6,
            ha='right', va='center', zorder=6)
    ax.plot([x0 + 0.177], [y1 - 0.015], transform=ax.transAxes, marker='+', ms=3.5, mew=MEW,
            color=RED, linestyle='none', zorder=6)
    ax.plot([x0 + 0.177], [y0 + 0.016], transform=ax.transAxes, marker='x', ms=3.0, mew=MEW,
            color=GREEN, linestyle='none', zorder=6)


fig = plt.figure(figsize=(7.89, 5.52), dpi=100)
W, H = 789.0, 552.0
lefts = [5, 267, 530]
top_row = (552 - 253) / H
bot_row = (552 - 529) / H
pw = 231.5 / W
ph = 207 / H

axes = []
for row_b in [top_row, bot_row]:
    for l in lefts:
        axes.append(fig.add_axes([l / W, row_b, pw, ph]))

top_box = (0.686, 0.894, 0.958, 0.966)
RMS, GMS = 4.0, 3.4

# top row, E8
ax = axes[0]
pts(ax, e8_del_nh, RED, '+', RMS)
pts(ax, e8_del_ih, GREEN, 'x', GMS)
pts(ax, e8_del_ih_core, GREEN, 'x', GMS)
setup(ax, 'E8', 0.07, x_ticks_e8, x_labels_e8, 'Sin \u03b4', (0.02, 0.0), top_box, ylabels=False)

ax = axes[1]
pts(ax, e8_alp_nh, RED, '+', RMS)
pts(ax, e8_alp_ih, GREEN, 'x', GMS)
scatter(ax, e8_alp_ih_top_x, e8_alp_ih_top_y, GREEN, 'x', GMS)
scatter(ax, e8_alp_ih_bot_x, e8_alp_ih_bot_y, GREEN, 'x', GMS)
setup(ax, 'E8', 0.07, x_ticks_e8, x_labels_e8, 'Sin \u03b1', (0.05, 0.0), top_box)

ax = axes[2]
pts(ax, e8_bet_nh, RED, '+', RMS)
pts(ax, e8_bet_ih, GREEN, 'x', GMS)
pts(ax, e8_bet_ih_core, GREEN, 'x', GMS)
setup(ax, 'E8', 0.07, x_ticks_e8, x_labels_e8, 'Sin \u03b2', (0.02, 0.0), top_box)

# bottom row, E9
ax = axes[3]
pts(ax, e9_del_nh, RED, '+', RMS)
pts(ax, e9_del_ih, GREEN, 'x', GMS)
pts(ax, e9_del_ih_core, GREEN, 'x', GMS)
setup(ax, 'E9', 0.1, x_ticks_e9, x_labels_e9, 'Sin \u03b4', (0.08, -0.5), top_box, ylabels=False)

ax = axes[4]
pts(ax, e9_alp_nh, RED, '+', RMS)
pts(ax, e9_alp_ih, GREEN, 'x', GMS)
pts(ax, e9_alp_ih_core, GREEN, 'x', GMS)
setup(ax, 'E9', 0.1, x_ticks_e9, x_labels_e9, 'Sin \u03b1', (0.08, -0.5), top_box)

ax = axes[5]
pts(ax, e9_bet_nh, RED, '+', RMS)
pts(ax, e9_bet_ih, GREEN, 'x', GMS)
scatter(ax, e9_bet_ih_top_x, e9_bet_ih_top_y, GREEN, 'x', GMS)
scatter(ax, e9_bet_ih_bot_x, e9_bet_ih_bot_y, GREEN, 'x', GMS)
setup(ax, 'E9', 0.1, x_ticks_e9, x_labels_e9, 'Sin \u03b2', (0.08, -0.5), (0.681, 0.430, 0.948, 0.498))

for ax in axes[3:]:
    ax.axvline(planck_mass, color='#222222', lw=1.0)
    ax.text(0.0716, 0.25, 'Planck', rotation=90, fontfamily=SANS, fontsize=6.5, ha='center', va='bottom')

fig.text(788 / W, (552 - 284) / H, 'm$_{\\mathregular{lightest}}$(eV)', fontfamily=SANS, fontsize=7.2,
         ha='right', va='baseline')

fig.savefig('out.png', dpi=100)
